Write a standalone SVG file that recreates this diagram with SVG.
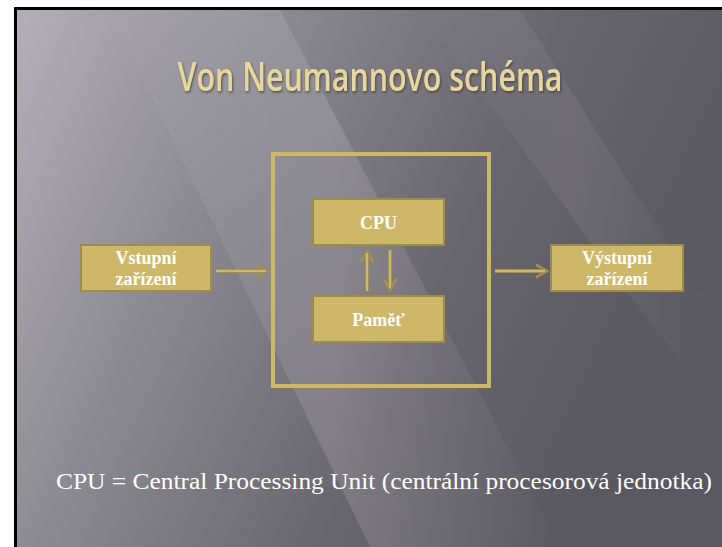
<svg xmlns="http://www.w3.org/2000/svg" width="722" height="547" viewBox="0 0 722 547">
<defs>
<linearGradient id="bg" x1="0" y1="0" x2="1" y2="0.35">
<stop offset="0" stop-color="#b3b0b8"/>
<stop offset="0.35" stop-color="#8a8890"/>
<stop offset="0.7" stop-color="#68666d"/>
<stop offset="1" stop-color="#5a5860"/>
</linearGradient>
<linearGradient id="streak" x1="0" y1="0" x2="1" y2="0">
<stop offset="0" stop-color="#ffffff" stop-opacity="0"/>
<stop offset="0.5" stop-color="#ffffff" stop-opacity="0.14"/>
<stop offset="1" stop-color="#ffffff" stop-opacity="0"/>
</linearGradient>
<filter id="sh" x="-5%" y="-10%" width="110%" height="130%">
<feDropShadow dx="1" dy="1.5" stdDeviation="0.8" flood-color="#333" flood-opacity="0.7"/>
</filter>
<marker id="ah" viewBox="0 0 10 10" refX="8" refY="5" markerWidth="4" markerHeight="4" orient="auto-start-reverse">
<path d="M1,1 L8,5 L1,9" fill="none" stroke="#a6914c" stroke-width="1.6"/>
</marker>
<style>
.box{fill:#cdb86a;stroke:#9e8c48;stroke-width:2}
.lbl{font-family:"Liberation Serif","DejaVu Serif",serif;font-weight:bold;font-size:18px;fill:#ffffff;text-anchor:middle}
.conn{stroke:#a6914c;stroke-width:4;fill:none}
.connin{stroke:#cdb86a;stroke-width:2;fill:none}
</style>
</defs>
<rect x="0" y="0" width="722" height="547" fill="#ffffff"/>
<rect x="14" y="7" width="708" height="540" fill="#000000"/>
<rect x="17" y="10" width="705" height="537" fill="url(#bg)"/>
<polygon points="110,10 280,10 560,547 370,547" fill="url(#streak)"/>
<polygon points="420,10 520,10 722,330 722,420" fill="url(#streak)" opacity="0.5"/>
<text x="370" y="91" font-family="'Open Sans','Noto Sans',sans-serif" font-weight="600" font-size="40" fill="#e8d69c" text-anchor="middle" textLength="385" lengthAdjust="spacingAndGlyphs" filter="url(#sh)">Von Neumannovo schéma</text>
<g id="computer">
<rect x="273" y="154" width="216" height="232" fill="none" stroke="#cdb86a" stroke-width="4"/>
</g>
<g id="connectors">
<line x1="216" y1="271" x2="268" y2="271" class="conn" marker-end="url(#ah)"/>
<line x1="216" y1="271" x2="266" y2="271" class="connin"/>
<line x1="495" y1="271" x2="547" y2="271" class="conn" marker-end="url(#ah)"/>
<line x1="495" y1="271" x2="545" y2="271" class="connin"/>
<line x1="367" y1="291" x2="367" y2="251" class="conn" marker-end="url(#ah)"/>
<line x1="367" y1="291" x2="367" y2="253" class="connin"/>
<line x1="390" y1="250" x2="390" y2="290" class="conn" marker-end="url(#ah)"/>
<line x1="390" y1="250" x2="390" y2="288" class="connin"/>
</g>
<g id="vstup">
<rect class="box" x="81" y="245" width="130" height="46"/>
<text class="lbl" x="146" y="264">Vstupní</text>
<text class="lbl" x="146" y="285">zařízení</text>
</g>
<g id="cpu">
<rect class="box" x="313" y="199" width="131" height="46"/>
<text class="lbl" x="378.5" y="229">CPU</text>
</g>
<g id="pamet">
<rect class="box" x="313" y="296" width="131" height="46"/>
<text class="lbl" x="378.5" y="326">Paměť</text>
</g>
<g id="vystup">
<rect class="box" x="551" y="245" width="132" height="46"/>
<text class="lbl" x="617" y="264">Výstupní</text>
<text class="lbl" x="617" y="285">zařízení</text>
</g>
<text x="384" y="489" font-family="'Liberation Serif',serif" font-size="24" fill="#ffffff" text-anchor="middle" textLength="656" lengthAdjust="spacingAndGlyphs">CPU = Central Processing Unit (centrální procesorová jednotka)</text>
</svg>
